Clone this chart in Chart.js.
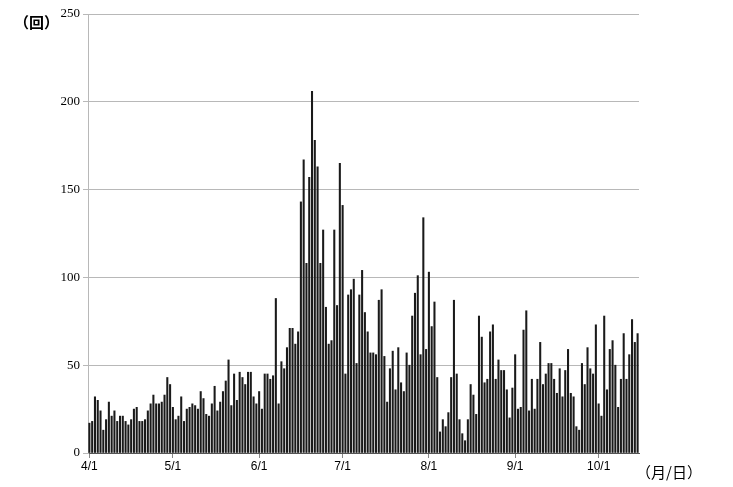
<!DOCTYPE html>
<html>
<head>
<meta charset="utf-8">
<script src="https://cdn.jsdelivr.net/npm/chart.js@4"></script>
<style>
  html, body { margin: 0; padding: 0; background: #fff; }
  #wrap { width: 733px; height: 487px; position: relative; }
</style>
</head>
<body>
<div id="wrap"><canvas id="chart"></canvas></div>
<script>
// daily counts, 4/1 - 10/15
const months = [4, 5, 6, 7, 8, 9, 10];
const daysInMonth = [30, 31, 30, 31, 31, 30, 15];

const counts = [
  17, 18, 32, 30, 24, 13, 19, 29, 21, 24, 18, 21, 21, 18, 16, 19, 25, 26, 18, 18,
  19, 24, 28, 33, 28, 28, 29, 33, 43, 39, 26, 19, 21, 32, 18, 25, 26, 28, 27, 25,
  35, 31, 22, 21, 28, 38, 24, 29, 35, 41, 53, 27, 45, 30, 46, 43, 39, 46, 46, 32,
  28, 35, 25, 45, 45, 42, 44, 88, 28, 52, 48, 60, 71, 71, 62, 69, 143, 167, 108, 157,
  206, 178, 163, 108, 127, 83, 62, 64, 127, 84, 165, 141, 45, 90, 93, 99, 51, 90, 104, 80,
  69, 57, 57, 56, 87, 93, 55, 29, 48, 58, 36, 60, 40, 35, 57, 50, 78, 91, 101, 56,
  134, 59, 103, 72, 86, 43, 12, 19, 15, 23, 43, 87, 45, 19, 11, 7, 19, 39, 33, 22,
  78, 66, 40, 42, 69, 73, 42, 53, 47, 47, 36, 20, 37, 56, 25, 26, 70, 81, 24, 42,
  25, 42, 63, 39, 45, 51, 51, 42, 34, 48, 32, 47, 59, 34, 32, 15, 13, 51, 39, 60,
  48, 45, 73, 28, 21, 78, 36, 59, 64, 50, 26, 42, 68, 42, 56, 76, 63, 68
];

const yTicks = [0, 50, 100, 150, 200, 250];

// build "m/d" labels
let labels = [];
months.forEach(function (m, i) {
  for (let d = 1; d <= daysInMonth[i]; d++) labels.push(m + '/' + d);
});

function isMonthStart(i) {
  return labels[i] && labels[i].endsWith('/1');
}

const extraText = {
  id: 'extraText',
  afterDraw(chart) {
    const c = chart.ctx;
    c.save();
    c.fillStyle = '#000';
    c.textBaseline = 'middle';
    c.font = 'bold 15px "Noto Sans CJK JP"';
    c.fillText('（回）', 14, 22);
    c.font = '15px "Noto Sans CJK JP"';
    c.fillText('（月/日）', 636, 472);
    c.restore();
  }
};

new Chart(document.getElementById('chart'), {
  type: 'bar',
  data: {
    labels: labels,
    datasets: [{
      data: counts,
      backgroundColor: '#1a1a1a',
      barThickness: 1.4
    }]
  },
  options: {
    responsive: true,
    maintainAspectRatio: false,
    animation: false,
    layout: { padding: { top: 14, right: 94, left: 0, bottom: 0 } },
    plugins: { legend: { display: false }, tooltip: { enabled: false } },
    scales: {
      x: {
        grid: {
          offset: false,
          drawOnChartArea: false,
          tickLength: 5,
          color: function (ctx) { return isMonthStart(ctx.index) ? '#888' : 'rgba(0,0,0,0)'; }
        },
        border: { color: '#555' },
        ticks: {
          autoSkip: false,
          maxRotation: 0,
          padding: 1,
          color: '#000',
          font: { family: 'Liberation Sans', size: 12 },
          callback: function (v, i) { return isMonthStart(i) ? labels[i] : ''; }
        },
        afterFit: function (scale) { scale.height = 34; }
      },
      y: {
        min: 0,
        max: 250,
        afterBuildTicks: function (scale) { scale.ticks = yTicks.map(v => ({ value: v })); },
        grid: { color: '#b8b8b8', tickLength: 5 },
        border: { color: '#b8b8b8' },
        ticks: {
          color: '#000',
          font: { family: 'Liberation Serif', size: 13 }
        },
        afterFit: function (scale) { scale.width = 88; }
      }
    }
  },
  plugins: [extraText]
});
</script>
</body>
</html>
